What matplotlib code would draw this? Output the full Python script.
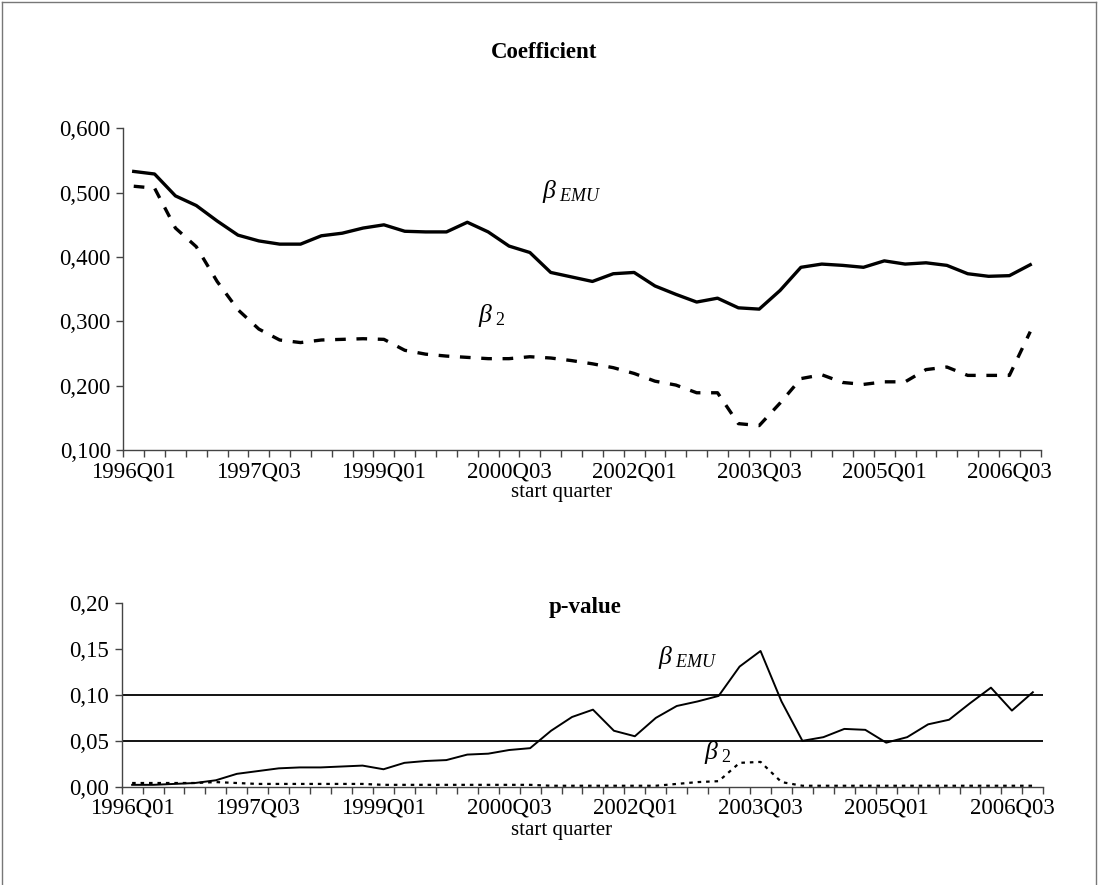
import numpy as np
import matplotlib
matplotlib.use("Agg")
import matplotlib.pyplot as plt
from matplotlib.ticker import FuncFormatter, FixedLocator
from matplotlib.lines import Line2D

plt.rcParams['font.family'] = ['Liberation Serif', 'DejaVu Serif']
plt.rcParams['mathtext.fontset'] = 'custom'
plt.rcParams['mathtext.rm'] = 'Liberation Serif'
plt.rcParams['mathtext.it'] = 'Liberation Serif:italic'

# quarters 1996Q1 .. 2006Q4
quarters = [f"{y}Q0{q}" for y in range(1996, 2007) for q in range(1, 5)]

coef_emu = [0.533, 0.529, 0.495, 0.480, 0.456, 0.434, 0.425, 0.420, 0.420, 0.433,
            0.437, 0.445, 0.450, 0.440, 0.439, 0.439, 0.454, 0.439, 0.417, 0.407,
            0.376, 0.369, 0.362, 0.374, 0.376, 0.355, 0.342, 0.330, 0.336, 0.321,
            0.319, 0.348, 0.384, 0.389, 0.387, 0.384, 0.394, 0.389, 0.391, 0.387,
            0.374, 0.370, 0.371, 0.388]
coef_b2 = [0.510, 0.507, 0.445, 0.416, 0.362, 0.318, 0.288, 0.271, 0.267, 0.271,
           0.272, 0.273, 0.272, 0.255, 0.249, 0.246, 0.244, 0.242, 0.242, 0.245,
           0.243, 0.239, 0.234, 0.228, 0.219, 0.207, 0.201, 0.189, 0.189, 0.141,
           0.138, 0.173, 0.211, 0.217, 0.205, 0.202, 0.206, 0.206, 0.225, 0.229,
           0.216, 0.216, 0.216, 0.284]

pval_emu = [0.002, 0.002, 0.003, 0.004, 0.007, 0.014, 0.017, 0.020, 0.021, 0.021,
            0.022, 0.023, 0.019, 0.026, 0.028, 0.029, 0.035, 0.036, 0.040, 0.042,
            0.061, 0.076, 0.084, 0.061, 0.055, 0.075, 0.088, 0.093, 0.099, 0.131,
            0.148, 0.093, 0.050, 0.054, 0.063, 0.062, 0.048, 0.054, 0.068, 0.073,
            0.091, 0.108, 0.083, 0.103]
pval_b2 = [0.004, 0.004, 0.004, 0.004, 0.005, 0.004, 0.003, 0.003, 0.003, 0.003,
           0.003, 0.003, 0.002, 0.002, 0.002, 0.002, 0.002, 0.002, 0.002, 0.002,
           0.001, 0.001, 0.001, 0.001, 0.001, 0.001, 0.003, 0.005, 0.006, 0.026,
           0.027, 0.005, 0.001, 0.001, 0.001, 0.001, 0.001, 0.001, 0.001, 0.001,
           0.001, 0.001, 0.001, 0.001]

sig_levels = [0.10, 0.05]

FS = 16.5
AXC = '#444444'
x = np.arange(len(quarters))


def style_axis(ax, ymin, ymax, ystep, ndec):
    n = len(quarters)
    ax.set_xlim(-0.5, n - 0.5)
    ax.set_ylim(ymin, ymax)
    for s in ['top', 'right']:
        ax.spines[s].set_visible(False)
    for s in ['left', 'bottom']:
        ax.spines[s].set_color(AXC)
        ax.spines[s].set_linewidth(1.0)
    # category boundaries get tick marks, every 6th category gets a label
    ax.xaxis.set_minor_locator(FixedLocator(np.arange(-0.5, n + 0.5, 1)))
    ax.xaxis.set_major_locator(FixedLocator(np.arange(0, n, 6)))
    ax.set_xticklabels(quarters[::6], fontsize=FS)
    ax.tick_params(axis='x', which='major', length=0, pad=8)
    ax.tick_params(axis='x', which='minor', length=5, width=1, color=AXC, direction='out')
    ax.set_yticks(np.arange(ymin, ymax + ystep / 2, ystep))
    ax.yaxis.set_major_formatter(FuncFormatter(lambda v, p: f"{v:.{ndec}f}".replace('.', ',')))
    ax.tick_params(axis='y', length=5, width=1, color=AXC, direction='out', labelsize=FS, pad=4)


fig = plt.figure(figsize=(10.98, 8.85), dpi=100)

# upper panel: coefficients
ax1 = fig.add_axes([0.1123, 0.4915, 0.8355, 0.3635])
ax1.plot(x, coef_emu, color='black', lw=2.4, solid_joinstyle='round')
ax1.plot(x, coef_b2, color='black', lw=2.4, dashes=(3.2, 3.2))
style_axis(ax1, 0.1, 0.6, 0.1, 3)
ax1.text(19.6, 0.492, r'$\beta_{\ EMU}$', fontsize=FS + 2, ha='left', va='baseline')
ax1.text(16.5, 0.299, r'$\beta_{\ 2}$', fontsize=FS + 2, ha='left', va='baseline')
fig.text(544 / 1098, 1 - 52 / 885, 'Coefficient', fontsize=FS, fontweight='bold',
         ha='center', va='center')
fig.text(562 / 1098, 1 - 493 / 885, 'start quarter', fontsize=FS - 1.5,
         ha='center', va='center')

# lower panel: p-values
ax2 = fig.add_axes([0.1108, 0.1111, 0.8394, 0.2072])
for lvl in sig_levels:
    ax2.axhline(lvl, color='black', lw=1.3)
ax2.plot(x, pval_emu, color='black', lw=1.4)
ax2.plot(x, pval_b2, color='black', lw=1.6, dashes=(1.6, 2.2))
style_axis(ax2, 0.0, 0.2, 0.05, 2)
ax2.text(25.1, 0.134, r'$\beta_{\ EMU}$', fontsize=FS + 2, ha='left', va='baseline')
ax2.text(27.3, 0.030, r'$\beta_{\ 2}$', fontsize=FS + 2, ha='left', va='baseline')
fig.text(585 / 1098, 1 - 608 / 885, 'p-value', fontsize=FS, fontweight='bold',
         ha='center', va='center')
fig.text(562 / 1098, 1 - 830 / 885, 'start quarter', fontsize=FS - 1.5,
         ha='center', va='center')

# thin frame round the chart area
for xs, ys in [([0.002, 0.002], [0, 0.998]), ([0.002, 0.998], [0.998, 0.998]),
               ([0.998, 0.998], [0, 0.998])]:
    fig.add_artist(Line2D(xs, ys, transform=fig.transFigure, color='#777777', lw=1.0))

fig.savefig('out.png', dpi=100)
